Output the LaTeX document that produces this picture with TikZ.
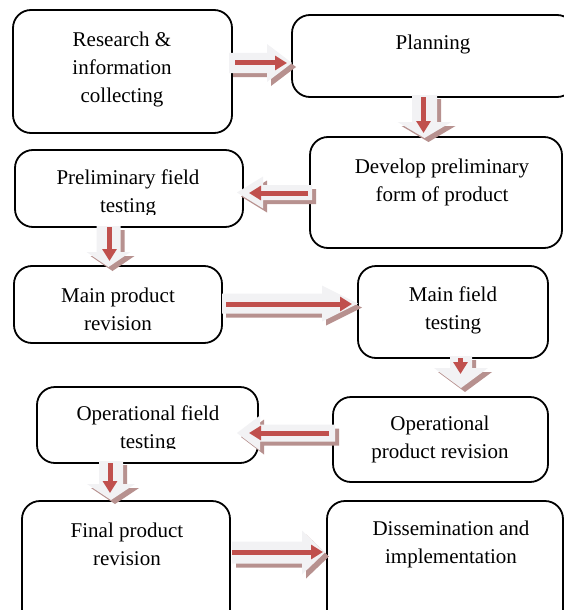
\documentclass[tikz,border=0pt]{standalone}
\usepackage{fontspec}
\setmainfont{Liberation Serif}
\usetikzlibrary{arrows.meta}
\definecolor{redarr}{RGB}{192,80,77}
\definecolor{shadowc}{RGB}{183,145,143}
\definecolor{lightc}{RGB}{242,242,244}
\tikzset{
  box/.style={draw=black, line width=1.8pt, rounded corners=18pt, inner sep=0pt, fill=white},
  lbl/.style={align=center, font=\fontsize{21}{28}\selectfont, inner sep=0pt},
  redline/.style={draw=redarr, line width=5pt, -{Triangle[length=12pt,width=14pt]}},
}
% right-pointing block: style, x1, x2(tip), yc, shaft hw, head hw, head len
\newcommand\rshape[7]{\fill[#1] (#2,{#4-#5}) -- ({#3-#7},{#4-#5}) -- ({#3-#7},{#4-#6}) -- (#3,#4) -- ({#3-#7},{#4+#6}) -- ({#3-#7},{#4+#5}) -- (#2,{#4+#5}) -- cycle;}
% left-pointing block: style, x1(tail), x2(tip), yc, shaft hw, head hw, head len
\newcommand\lshape[7]{\fill[#1] (#2,{#4-#5}) -- ({#3+#7},{#4-#5}) -- ({#3+#7},{#4-#6}) -- (#3,#4) -- ({#3+#7},{#4+#6}) -- ({#3+#7},{#4+#5}) -- (#2,{#4+#5}) -- cycle;}
% down-pointing block: style, y1, y2(tip), xc, shaft hw, head hw, head len
\newcommand\dshape[7]{\fill[#1] ({#4-#5},#2) -- ({#4-#5},{#3-#7}) -- ({#4-#6},{#3-#7}) -- (#4,#3) -- ({#4+#6},{#3-#7}) -- ({#4+#5},{#3-#7}) -- ({#4+#5},#2) -- cycle;}
\newcommand\rblock[6]{\begin{scope}[shift={(4,4)}]\rshape{shadowc}{#1}{#2}{#3}{#4}{#5}{#6}\end{scope}\rshape{lightc}{#1}{#2}{#3}{#4}{#5}{#6}}
\newcommand\lblock[6]{\begin{scope}[shift={(4,4)}]\lshape{shadowc}{#1}{#2}{#3}{#4}{#5}{#6}\end{scope}\lshape{lightc}{#1}{#2}{#3}{#4}{#5}{#6}}
\newcommand\dblock[6]{\begin{scope}[shift={(4,4)}]\dshape{shadowc}{#1}{#2}{#3}{#4}{#5}{#6}\end{scope}\dshape{lightc}{#1}{#2}{#3}{#4}{#5}{#6}}
\begin{document}
\begin{tikzpicture}[x=1pt,y=-1pt]
\useasboundingbox (0,0) rectangle (564,610);
\clip (0,0) rectangle (564,610);
% boxes
\node[box, minimum width=219pt, minimum height=123pt] (r1) at (122.5,71.5) {};
\node[box, minimum width=283pt, minimum height=82pt] (r2) at (433.5,56) {};
\node[box, minimum width=252pt, minimum height=111pt] (r3) at (436,192.5) {};
\node[box, minimum width=228pt, minimum height=77pt] (r4) at (129,188.5) {};
\node[box, minimum width=208pt, minimum height=77pt] (r5) at (118,304.5) {};
\node[box, minimum width=190pt, minimum height=92pt] (r6) at (453,312) {};
\node[box, minimum width=221pt, minimum height=76pt] (r7) at (147.5,425) {};
\node[box, minimum width=215pt, minimum height=85pt] (r8) at (440.5,439.5) {};
\node[box, minimum width=208pt, minimum height=129pt] (r9) at (126,565.5) {};
\node[box, minimum width=236pt, minimum height=129pt] (r10) at (445,565.5) {};
% labels
\node[lbl] (t1) at (122,69.5) {Research \&\\information\\collecting};
\node[lbl] (t2) at (433,44) {Planning};
\node[lbl] (t3) at (442,182) {Develop preliminary\\form of product};
\begin{scope}
\clip (0,0) rectangle (564,214);
\node[lbl] (t4) at (128,193) {Preliminary field\\testing};
\end{scope}
\node[lbl] (t5) at (118,309.5) {Main product\\revision};
\node[lbl] (t6) at (453,310) {Main field\\testing};
\begin{scope}
\clip (0,0) rectangle (564,448);
\node[lbl] (t7) at (148,429.5) {Operational field\\testing};
\end{scope}
\node[lbl] (t8) at (440,439.5) {Operational\\product revision};
\node[lbl] (t9) at (127,544.5) {Final product\\revision};
\node[lbl] (t10) at (451,544.5) {Dissemination and\\implementation};
% block arrows
\rblock{229}{292}{63}{10}{19}{25}
\dblock{95}{138}{424.5}{12.5}{27}{16}
\lblock{312}{237}{192.5}{7.5}{16}{26}
\dblock{226}{267}{108.5}{12}{22}{15}
\rblock{222}{358}{303.5}{10}{18}{36}
\dblock{356}{388}{461}{11}{27}{20}
\lblock{335}{237}{433}{8.5}{17.5}{23}
\dblock{461}{500}{111}{12}{24}{16}
\rblock{232}{325}{552.5}{11}{22}{23}
% red connectors
\coordinate (a1s) at (235,63);   \coordinate (a1e) at (287,63);
\coordinate (a2s) at (423.5,97); \coordinate (a2e) at (423.5,133);
\coordinate (a3s) at (308,193);  \coordinate (a3e) at (249,193);
\coordinate (a4s) at (109.5,227);\coordinate (a4e) at (109.5,261);
\coordinate (a5s) at (226,304);  \coordinate (a5e) at (352,304);
\coordinate (a6s) at (460.5,358);\coordinate (a6e) at (460.5,374);
\coordinate (a7s) at (329,433);  \coordinate (a7e) at (249,433);
\coordinate (a8s) at (110,463);  \coordinate (a8e) at (110,493);
\coordinate (a9s) at (232,552);  \coordinate (a9e) at (323,552);
\draw[redline] (a1s) -- (a1e);
\draw[redline] (a2s) -- (a2e);
\draw[redline] (a3s) -- (a3e);
\draw[redline] (a4s) -- (a4e);
\draw[redline] (a5s) -- (a5e);
\draw[redline] (a6s) -- (a6e);
\draw[redline] (a7s) -- (a7e);
\draw[redline] (a8s) -- (a8e);
\draw[redline] (a9s) -- (a9e);
\end{tikzpicture}
\end{document}
